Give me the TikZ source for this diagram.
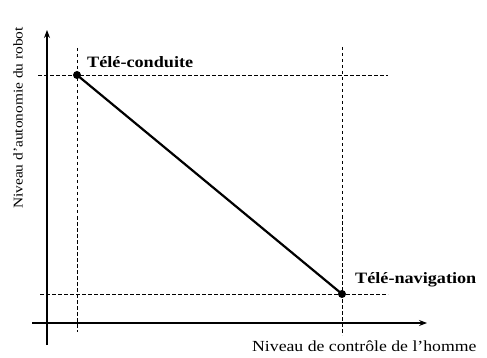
\documentclass[tikz,border=0pt]{standalone}
\usepackage{fontspec}
\setmainfont{Liberation Serif}[FakeStretch=1.15]
\usetikzlibrary{arrows.meta}
\begin{document}
\begin{tikzpicture}[x=1pt,y=-1pt,
  axis/.style={line width=1.1pt,-{Stealth[length=8pt,width=6pt]}},
  guide/.style={dashed,line width=0.7pt,dash pattern=on 3.5pt off 2.5pt},
  pt/.style={circle,fill=black,inner sep=0pt,minimum size=8pt},
  lbl/.style={font=\fontsize{15.8}{18}\selectfont\bfseries},
  axlbl/.style={font=\fontsize{15.4}{18}\selectfont},
  aylbl/.style={font=\fontsize{13.4}{16}\selectfont}]
\useasboundingbox (0,0) rectangle (487,358);
\coordinate (ybot) at (47,345);
\coordinate (ytop) at (47,30);
\coordinate (xl) at (32,323);
\coordinate (xr) at (427,323);
\draw[axis] (ybot) -- (ytop);
\draw[axis] (xl) -- (xr);
\node[pt] (A) at (77,75) {};
\node[pt] (B) at (342,294) {};
\coordinate (A1) at (77,48);
\coordinate (A2) at (77,332);
\coordinate (A3) at (38,75);
\coordinate (A4) at (388,75);
\coordinate (B1) at (342,47);
\coordinate (B2) at (342,335);
\coordinate (B3) at (40,294);
\coordinate (B4) at (388,294);
\draw[guide] (A1) -- (A2);
\draw[guide] (A3) -- (A4);
\draw[guide] (B1) -- (B2);
\draw[guide] (B3) -- (B4);
\draw[line width=2.2pt] (A.center) -- (B.center);
\node[lbl,anchor=west,inner sep=0pt] (la) at (87,62) {Télé-conduite};
\node[lbl,anchor=west,inner sep=0pt] (lb) at (355,280) {Télé-navigation};
\node[axlbl,anchor=west,inner sep=0pt] (lx) at (252,346) {Niveau de contrôle de l’homme};
\node[aylbl,rotate=90,anchor=center,inner sep=0pt] (ly) at (18,118) {Niveau d’autonomie du robot};
\end{tikzpicture}
\end{document}
